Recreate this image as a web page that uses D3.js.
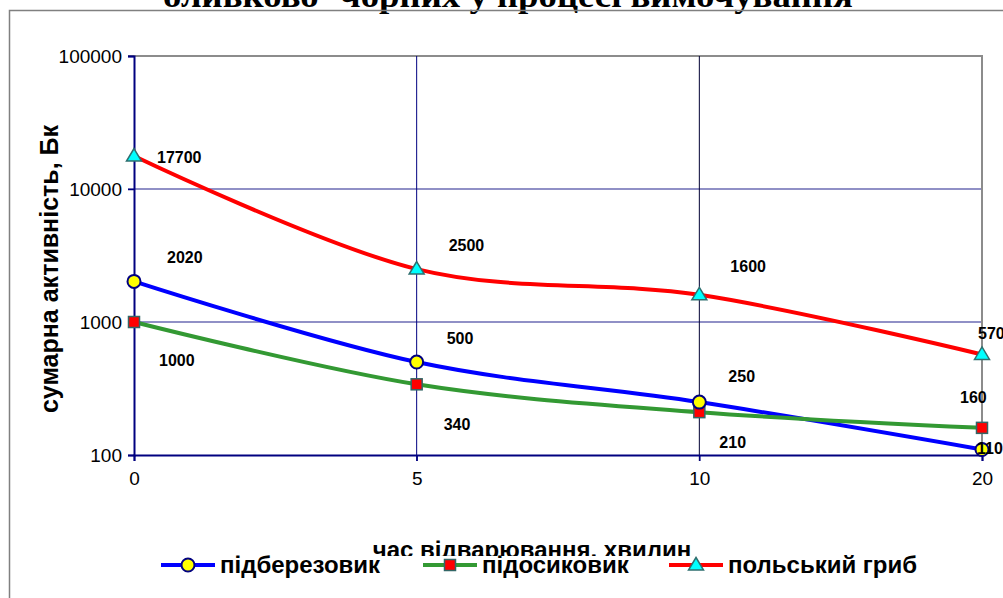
<!DOCTYPE html>
<html><head><meta charset="utf-8">
<script src="https://cdn.jsdelivr.net/npm/d3@7"></script>
<style>
html,body{margin:0;padding:0;background:#fff;overflow:hidden}
svg{display:block}
</style></head>
<body>
<svg id="chart" width="1003" height="598"></svg>
<script>
// ---- data ----
const categories = ["0", "5", "10", "20"];
const seriesNames = ["підберезовик", "підосиковик", "польський гриб"];
const pidberezovyk = [2020, 500, 250, 110];
const pidosykovyk = [1000, 340, 210, 160];
const polskyiGryb = [17700, 2500, 1600, 570];
const yTicks = [100, 1000, 10000, 100000];
const titleText = "оливково- чорних у процесі вимочування";
const yTitle = "сумарна активність, Бк";
const xTitle = "час відварювання. хвилин";

// ---- layout / style (not data) ----
const styles = [
  {color: "#0000ff", marker: "circle"},
  {color: "#339933", marker: "square"},
  {color: "#ff0000", marker: "triangle"}
];
// label offsets from each point [dx, dy] (text left edge, vertical centre)
const labelOffsets = [
  [[33, -24], [30, -24], [29, -26], [-5, -1]],
  [[25, 38], [27, 40], [20, 30], [-22, -30]],
  [[23, 1], [32, -24], [31, -28], [-4, -21]]
];

const series = [pidberezovyk, pidosykovyk, polskyiGryb];
const svg = d3.select("#chart");
const W = 1003, H = 598;
const L = 134, R = 982, T = 56, B = 455;

const x = d3.scalePoint().domain(categories).range([L, R]);
const y = d3.scaleLog().domain([100, 100000]).range([B, T]);

svg.append("rect").attr("width", W).attr("height", H).attr("fill", "#fff");

// title (mostly cut off at top)
svg.append("text").attr("x", 508).attr("y", 7)
  .attr("text-anchor", "middle")
  .attr("font-family", "'Liberation Serif', 'Times New Roman', serif")
  .attr("font-weight", "bold").attr("font-size", 34)
  .attr("textLength", 690).attr("lengthAdjust", "spacingAndGlyphs")
  .text(titleText);

// chart frame
svg.append("path").attr("d", `M9.5,${H} V10.5 H${W}`)
  .attr("fill", "none").attr("stroke", "#808080").attr("stroke-width", 1.5);

// horizontal gridlines
yTicks.filter(v => v > 100 && v < 100000).forEach(v => {
  svg.append("line").attr("x1", L - 6).attr("x2", R)
    .attr("y1", y(v)).attr("y2", y(v))
    .attr("stroke", "#6b6bb3").attr("stroke-width", 1.5);
});
// top border
svg.append("line").attr("x1", L - 6).attr("x2", R + 1).attr("y1", T).attr("y2", T)
  .attr("stroke", "#8c8c8c").attr("stroke-width", 2);
// vertical gridlines
categories.slice(1, 3).forEach((c, i) => {
  svg.append("line").attr("x1", x(c)).attr("x2", x(c)).attr("y1", T).attr("y2", B + 6)
    .attr("stroke", i === 0 ? "#000080" : "#000033").attr("stroke-width", 1);
});
// right border
svg.append("line").attr("x1", R).attr("x2", R).attr("y1", T).attr("y2", B)
  .attr("stroke", "#8c8c8c").attr("stroke-width", 2);

// axes
const yAxis = d3.axisLeft(y).tickValues(yTicks).tickFormat(d3.format("d")).tickSize(6).tickPadding(6);
const gy = svg.append("g").attr("transform", `translate(${L},0)`).call(yAxis);
gy.select(".domain").attr("stroke", "#000080").attr("stroke-width", 2);
gy.selectAll(".tick line").attr("stroke", "#000080").attr("stroke-width", 1.5);
gy.selectAll(".tick text").attr("font-family", "Arial, 'Liberation Sans', sans-serif")
  .attr("font-size", 19).attr("fill", "#000");

const xAxis = d3.axisBottom(x).tickSize(6).tickPadding(11);
const gx = svg.append("g").attr("transform", `translate(0,${B})`).call(xAxis);
gx.select(".domain").attr("stroke", "#000080").attr("stroke-width", 2);
gx.selectAll(".tick line").attr("stroke", "#000080").attr("stroke-width", 1.5);
gx.selectAll(".tick text").attr("font-family", "Arial, 'Liberation Sans', sans-serif")
  .attr("font-size", 19).attr("fill", "#000");

// axis titles
svg.append("text").attr("transform", "translate(58,269) rotate(-90)")
  .attr("text-anchor", "middle")
  .attr("font-family", "Arial, 'Liberation Sans', sans-serif")
  .attr("font-weight", "bold").attr("font-size", 25).text(yTitle);

svg.append("text").attr("x", 532).attr("y", 558)
  .attr("text-anchor", "middle")
  .attr("font-family", "Arial, 'Liberation Sans', sans-serif")
  .attr("font-weight", "bold").attr("font-size", 24).text(xTitle);

// lines
const line = d3.line().x((d, i) => x(categories[i])).y(d => y(d)).curve(d3.curveCatmullRom.alpha(0));
series.forEach((s, k) => {
  svg.append("path").attr("d", line(s)).attr("fill", "none")
    .attr("stroke", styles[k].color).attr("stroke-width", 4)
    .attr("stroke-linejoin", "round");
});

function drawMarker(g, type, cx, cy) {
  if (type === "circle") {
    g.append("circle").attr("cx", cx).attr("cy", cy).attr("r", 6.5)
      .attr("fill", "#ffff00").attr("stroke", "#000080").attr("stroke-width", 2);
  } else if (type === "square") {
    g.append("rect").attr("x", cx - 5.5).attr("y", cy - 5.5).attr("width", 11).attr("height", 11)
      .attr("fill", "#ff0000").attr("stroke", "#336666").attr("stroke-width", 1.5);
  } else {
    g.append("path").attr("d", `M${cx},${cy - 7.5} L${cx + 7.5},${cy + 5} L${cx - 7.5},${cy + 5} Z`)
      .attr("fill", "#00ffff").attr("stroke", "#2f6f6f").attr("stroke-width", 1.5)
      .attr("stroke-linejoin", "miter");
  }
}

// markers
[2, 1, 0].forEach(k => {
  series[k].forEach((v, i) => drawMarker(svg, styles[k].marker, x(categories[i]), y(v)));
});

// data labels
series.forEach((s, k) => {
  s.forEach((v, i) => {
    const [dx, dy] = labelOffsets[k][i];
    svg.append("text").attr("x", x(categories[i]) + dx).attr("y", y(v) + dy)
      .attr("dy", "0.35em")
      .attr("font-family", "Arial, 'Liberation Sans', sans-serif")
      .attr("font-weight", "bold").attr("font-size", 16).attr("fill", "#000")
      .text(v);
  });
});

// legend (white box overlapping the x title)
const lg = svg.append("g");
lg.append("rect").attr("x", 150).attr("y", 556).attr("width", 790).attr("height", 32).attr("fill", "#fff");
const legendX = [161, 423, 669];
const ly = 565;
series.forEach((s, k) => {
  const x0 = legendX[k];
  lg.append("line").attr("x1", x0).attr("x2", x0 + 54).attr("y1", ly).attr("y2", ly)
    .attr("stroke", styles[k].color).attr("stroke-width", 4);
  drawMarker(lg, styles[k].marker, x0 + 27, ly);
  lg.append("text").attr("x", x0 + 59).attr("y", ly).attr("dy", "0.35em")
    .attr("font-family", "Arial, 'Liberation Sans', sans-serif")
    .attr("font-weight", "bold").attr("font-size", 24).attr("fill", "#000")
    .text(seriesNames[k]);
});
</script>
</body></html>
